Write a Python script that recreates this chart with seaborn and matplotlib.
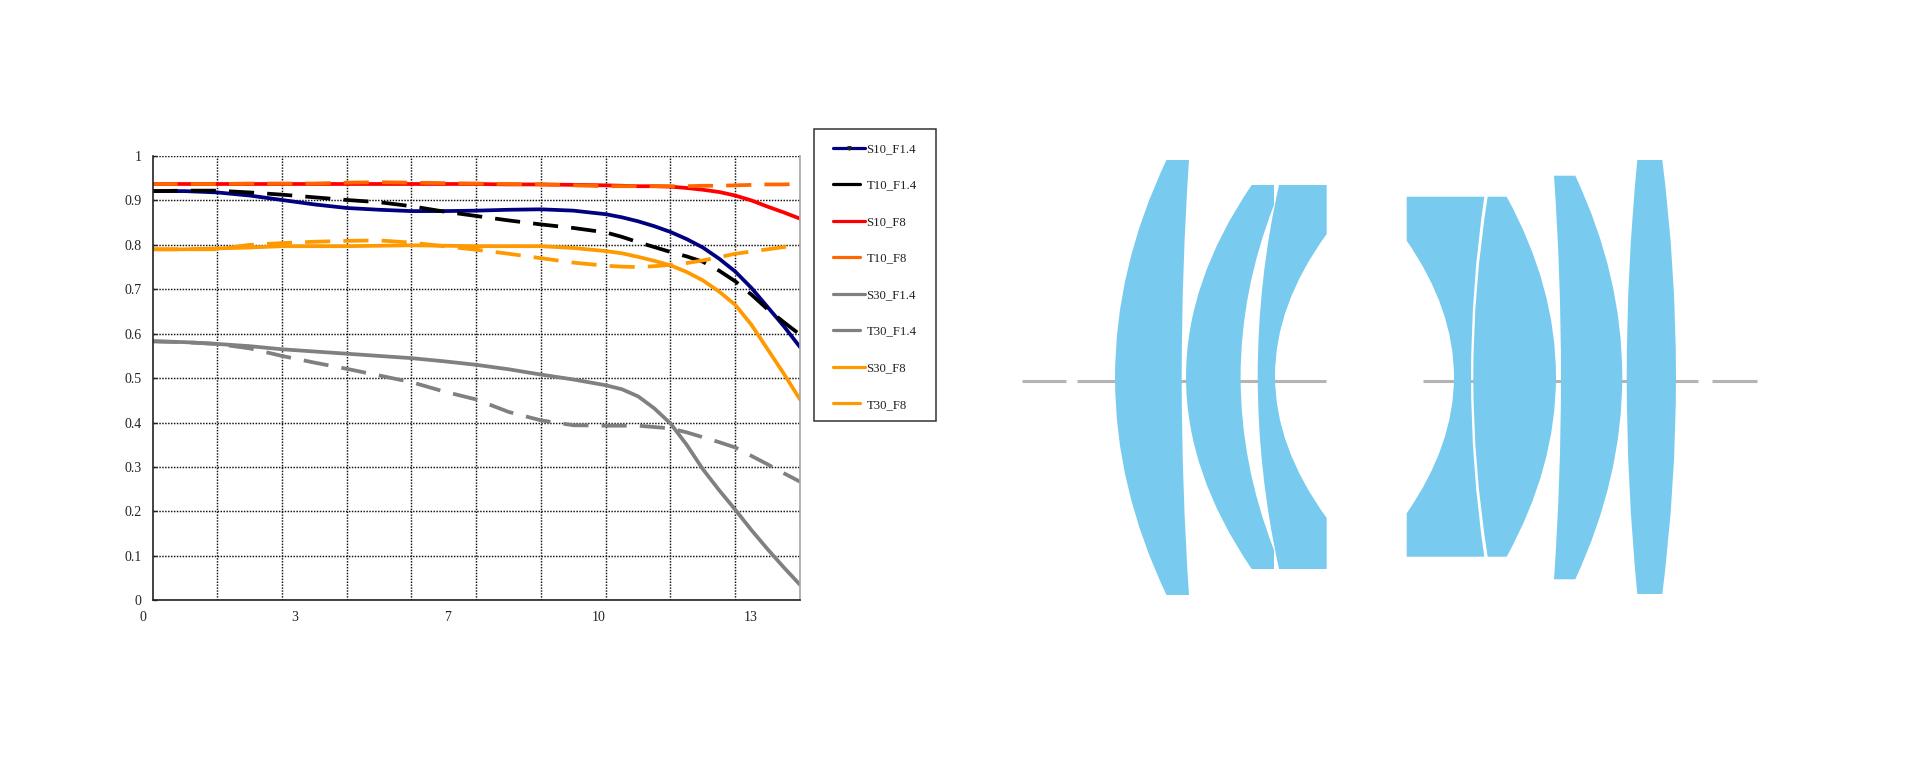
import numpy as np
import pandas as pd
import matplotlib
matplotlib.use('Agg')
import matplotlib.pyplot as plt
import seaborn as sns
from matplotlib.lines import Line2D
from matplotlib.legend_handler import HandlerLine2D
from matplotlib.patches import PathPatch, Rectangle
from matplotlib.path import Path
from matplotlib.transforms import ScaledTranslation

# field position in mm, read at half grid steps, quarter steps where the curves bend
field_mm = [0, 0.71, 1.42, 2.13, 2.84, 3.55, 4.26, 4.97, 5.68, 6.39, 7.1, 7.81, 8.52, 9.23,
            9.94, 10.295, 10.65, 11.005, 11.36, 11.715, 12.07, 12.425, 12.78, 13.135, 13.49, 13.845, 14.2]

s10_f14 = [.921, .921, .918, .911, .901, .891, .883, .879, .876, .876, .877, .879, .880, .877,
           .869, .862, .853, .842, .829, .813, .794, .769, .740, .703, .660, .617, .570]
t10_f14 = [.921, .922, .922, .918, .913, .907, .901, .896, .887, .875, .865, .855, .846, .838,
           .828, .818, .806, .795, .784, .774, .762, .742, .718, .688, .655, .626, .598]
s10_f8 = [.937, .937, .937, .937, .937, .937, .937, .937, .937, .937, .937, .936, .936, .935,
          .934, .933, .932, .932, .931, .928, .924, .919, .911, .900, .886, .873, .859]
t10_f8 = [.937, .937, .937, .938, .938, .938, .940, .941, .940, .939, .938, .937, .936, .934,
          .932, .932, .932, .932, .932, .932, .933, .933, .934, .935, .936, .936, .937]
s30_f14 = [.583, .581, .577, .572, .565, .560, .555, .550, .545, .538, .530, .520, .508, .497,
           .484, .475, .459, .432, .398, .350, .295, .248, .204, .158, .115, .074, .035]
t30_f14 = [.583, .581, .577, .567, .550, .535, .521, .506, .491, .470, .452, .424, .405, .394,
           .393, .393, .393, .390, .387, .378, .367, .356, .344, .325, .306, .286, .267]
s30_f8 = [.790, .790, .792, .794, .797, .797, .797, .798, .799, .798, .797, .797, .797, .793,
          .786, .781, .773, .764, .754, .739, .720, .695, .665, .620, .565, .510, .452]
t30_f8 = [.790, .790, .790, .800, .804, .807, .809, .810, .805, .797, .789, .780, .770, .760,
          .753, .751, .750, .752, .755, .759, .765, .772, .780, .785, .790, .795, .800]

series = {'S10_F1.4': s10_f14, 'T10_F1.4': t10_f14, 'S10_F8': s10_f8, 'T10_F8': t10_f8,
          'S30_F1.4': s30_f14, 'T30_F1.4': t30_f14, 'S30_F8': s30_f8, 'T30_F8': t30_f8}
colors = {'S10_F1.4': '#000080', 'T10_F1.4': '#000000', 'S10_F8': '#ff0000', 'T10_F8': '#ff6600',
          'S30_F1.4': '#808080', 'T30_F1.4': '#808080', 'S30_F8': '#ff9900', 'T30_F8': '#ff9900'}

x_grid = [0, 1.42, 2.84, 4.26, 5.68, 7.1, 8.52, 9.94, 11.36, 12.78, 14.2]
x_label_pos = [0, 3.33, 6.67, 10, 13.33]
x_labels = ['0', '3', '7', '10', '13']
y_ticks = [0, .1, .2, .3, .4, .5, .6, .7, .8, .9, 1]
y_labels = ['0', '0.1', '0.2', '0.3', '0.4', '0.5', '0.6', '0.7', '0.8', '0.9', '1']

# lens outlines in image pixels, M move, L line, Q quadratic (control point, end point)
lenses = [
    ('MQQLQQ', [(1166.5, 160), (1115, 268), (1115, 378), (1115, 487), (1166.5, 595), (1189, 595),
                (1181.7, 487), (1181.7, 378), (1181.7, 268), (1189, 160)]),
    ('MQQLLQQL', [(1251.7, 185), (1186, 281), (1186, 377), (1186, 473), (1251.7, 569), (1274, 569), (1274, 550),
                  (1240.6, 464), (1240.6, 377), (1240.6, 291), (1274, 205), (1274, 185)]),
    ('MQQLLQQL', [(1279, 185), (1257.7, 280), (1257.7, 376), (1257.7, 472), (1279, 569), (1326.7, 569), (1326.7, 518),
                  (1275, 447), (1275, 376), (1275, 305), (1326.7, 234), (1326.7, 185)]),
    ('MLQQLLQQ', [(1406.7, 196.7), (1484.3, 196.7), (1471, 287), (1471, 377), (1471, 467), (1484.3, 556.7),
                  (1406.7, 556.7), (1406.7, 513.3), (1454, 445), (1454, 377), (1454, 309), (1406.7, 240.7)]),
    ('MLQQLQQ', [(1487.7, 196.7), (1506.7, 196.7), (1556, 287), (1556, 377), (1556, 467), (1506.7, 556.7),
                 (1487.7, 556.7), (1473.3, 467), (1473.3, 377), (1473.3, 287), (1487.7, 196.7)]),
    ('MLQQLQQ', [(1554, 175.7), (1575.3, 175.7), (1622.3, 276), (1622.3, 377), (1622.3, 478), (1575.3, 579.3),
                 (1554, 579.3), (1561, 478), (1561, 377), (1561, 276), (1554, 175.7)]),
    ('MLQQLQQ', [(1637.3, 160), (1662.3, 160), (1676, 268), (1676, 377), (1676, 486), (1662.3, 594),
                 (1637.3, 594), (1626.7, 486), (1626.7, 377), (1626.7, 268), (1637.3, 160)]),
]
axis_segments = [(1022, 1066), (1077, 1326), (1423, 1698), (1712, 1757)]
axis_y = 380.7

CODES = {'M': [Path.MOVETO], 'L': [Path.LINETO], 'Q': [Path.CURVE3, Path.CURVE3]}


class ShortHandle(HandlerLine2D):
    def get_xdata(self, legend, xdescent, ydescent, width, height, fontsize):
        xdata, xmarker = super().get_xdata(legend, xdescent, ydescent, width, height, fontsize)
        return [xdata[0], xdata[0] + 0.84 * (xdata[-1] - xdata[0])], xmarker


df = pd.DataFrame({'field': field_mm * len(series),
                   'mtf': sum(series.values(), []),
                   'series': [name for name in series for _ in field_mm]})

sns.set_style('white')
plt.rcParams['font.family'] = ['Liberation Serif', 'DejaVu Serif']

W, H = 1920, 782
fig = plt.figure(figsize=(W / 100, H / 100), dpi=100)

# lens drawing and the legend frame, one axes in image pixels
ax_lens = fig.add_axes([0, 0, 1, 1])
ax_lens.set_xlim(0, W)
ax_lens.set_ylim(H, 0)
ax_lens.axis('off')
for x0, x1 in axis_segments:
    ax_lens.plot([x0, x1], [axis_y, axis_y], color='#b4b4b4', lw=2.2, solid_capstyle='butt', zorder=1)
for kinds, pts in lenses:
    codes = [c for k in kinds for c in CODES[k]] + [Path.CLOSEPOLY]
    path = Path(pts + [pts[0]], codes)
    ax_lens.add_patch(PathPatch(path, facecolor='#78cbee', edgecolor='none', zorder=2))
ax_lens.add_patch(Rectangle((814, 129), 122, 291.7, facecolor='none', edgecolor='#333333', lw=1.1))

# MTF chart
left, right, top, bottom = 152.5, 800, 156, 600.3
ax = fig.add_axes([left / W, 1 - bottom / H, (right - left) / W, (bottom - top) / H])
dashes = {name: '' if name.startswith('S') else (6.7, 3.5) for name in series}
sns.lineplot(data=df, x='field', y='mtf', hue='series', style='series', palette=colors,
             dashes=dashes, linewidth=2.7, errorbar=None, legend=False, ax=ax)
ax.set_xlim(0, 14.2)
ax.set_ylim(0, 1)
ax.set_xlabel('')
ax.set_ylabel('')
ax.set_xticks(x_grid, minor=True)
ax.set_xticks(x_label_pos)
ax.set_xticklabels(x_labels, fontsize=10, color='#222222')
ax.set_yticks(y_ticks)
ax.set_yticklabels(y_labels, fontsize=10, color='#222222')
ax.tick_params(axis='x', which='major', length=0, pad=8)
ax.tick_params(axis='x', which='minor', length=0)
ax.tick_params(axis='y', which='major', direction='in', length=3, width=1, color='#222222', left=True, pad=8)
offset = ScaledTranslation(-9.5 / 100, 0, fig.dpi_scale_trans)
for label in ax.get_xticklabels():
    label.set_transform(label.get_transform() + offset)

ax.grid(False)
ax.grid(True, which='minor', axis='x', color='#111111', lw=1.05, ls=(0, (1, 1)), zorder=0)
ax.grid(True, which='major', axis='y', color='#111111', lw=1.05, ls=(0, (1, 1)), zorder=0)
ax.set_axisbelow(True)
ax.patch.set_alpha(0)
for side in ['left', 'bottom']:
    ax.spines[side].set_color('#222222')
    ax.spines[side].set_linewidth(1.2)
ax.spines['top'].set_visible(False)
ax.spines['right'].set_color('#a8a8a8')
ax.spines['right'].set_linewidth(1.2)

handles = []
handler_map = {}
for name in series:
    marker = 'v' if name == 'S10_F1.4' else None
    h = Line2D([], [], color=colors[name], lw=2.3, marker=marker, ms=2.5, mfc='#222222', mec='#222222')
    handles.append(h)
    if name.startswith('T'):
        handler_map[h] = ShortHandle()
fig.legend(handles, list(series), handler_map=handler_map, loc='upper left',
           bbox_to_anchor=(832.7 / W, 1 - 143 / H), bbox_transform=fig.transFigure, borderaxespad=0,
           prop={'size': 9.2}, labelcolor='#222222', frameon=False, borderpad=0,
           labelspacing=1.92, handlelength=2.52, handletextpad=0.13)

plt.savefig('out.png', dpi=100)
